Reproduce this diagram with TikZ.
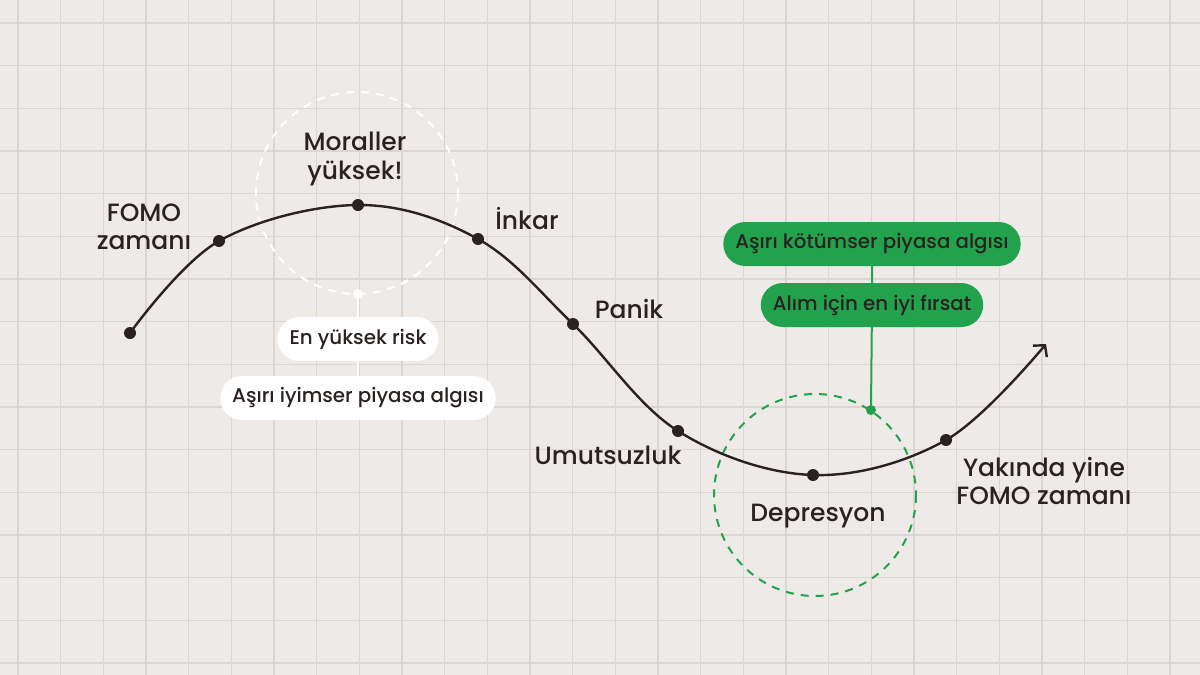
\documentclass[tikz,border=0pt]{standalone}
\usepackage{fontspec}
\setmainfont{Poppins}[UprightFont=* Medium]
\usetikzlibrary{arrows.meta}

\definecolor{paper}{HTML}{EEEAE7}
\definecolor{gridline}{HTML}{DCD6D3}
\definecolor{ink}{HTML}{2A2121}
\definecolor{leaf}{HTML}{23A24D}

\tikzset{
    dot/.style={circle,fill=ink,inner sep=0pt,minimum size=12pt},
    phase/.style={font=\fontsize{25}{28.5}\selectfont,text=ink,align=center},
    pill/.style={rounded corners=22pt,minimum height=44pt,inner xsep=12pt,font=\fontsize{19.8}{22}\selectfont,text=ink},
    ring/.style={line width=2pt,dash pattern=on 8pt off 7pt}
}

\begin{document}
\begin{tikzpicture}[x=1pt,y=-1pt]
    \fill [paper] (0,0) rectangle (1200,675);
    \useasboundingbox (0,0) rectangle (1200,675);
    
    % grid
    \foreach \i in {0,...,27}
        \draw [gridline,line width=1.2pt] ({18+42.667*\i},0) -- ({18+42.667*\i},675);
    \foreach \j in {0,...,15}
        \draw [gridline,line width=1.2pt] (0,{23+42.667*\j}) -- (1200,{23+42.667*\j});
    
    % dashed rings
    \draw [white,ring] (357,193) circle [radius=101];
    \draw [leaf,ring] (815,495) circle [radius=101];
    
    % points of the wave
    \coordinate (p0) at (130,333);
    \coordinate (p1) at (219,241);
    \coordinate (p2) at (358,205);
    \coordinate (p3) at (478,239);
    \coordinate (p4) at (573,324);
    \coordinate (p5) at (678,431);
    \coordinate (p6) at (813,475);
    \coordinate (p7) at (946,440);
    \coordinate (tip) at (1046,344);
    
    \draw [ink,line width=2.4pt,-{Straight Barb[length=8pt,width=18pt,line width=2.4pt]}]
        plot [smooth,tension=0.6] coordinates {(p0) (p1) (p2) (p3) (p4) (p5) (p6) (p7) (tip)};
    
    \foreach \p in {0,...,7}
        \node [dot] (d\p) at (p\p) {};
    
    % phase labels
    \node [phase] (fomo) at (144,227) {FOMO\\zamanı};
    \node [phase] (moral) at (355,159) {Moraller\\yüksek!};
    \node [phase] (inkar) at (527,219) {İnkar};
    \node [phase] (panik) at (629,309) {Panik};
    \node [phase] (umut) at (608,455) {Umutsuzluk};
    \node [phase] (depr) at (818,516) {Depresyon};
    \node [phase] (yine) at (1044,481) {Yakında yine\\FOMO zamanı};
    
    % top: white tags
    \node [circle,fill=white,inner sep=0pt,minimum size=10pt] (wdot) at (358,294) {};
    \node [pill,fill=white] (risk) at (358,339) {En yüksek risk};
    \node [pill,fill=white] (iyimser) at (358,398) {Aşırı iyimser piyasa algısı};
    \draw [white,line width=2pt] (wdot) -- (risk) -- (iyimser);
    
    % bottom: green tags
    \node [circle,fill=leaf,inner sep=0pt,minimum size=10pt] (gdot) at (871,410) {};
    \node [pill,fill=leaf] (kotu) at (872,244) {Aşırı kötümser piyasa algısı};
    \node [pill,fill=leaf] (firsat) at (872,305) {Alım için en iyi fırsat};
    \draw [leaf,line width=2pt] (kotu) -- (firsat) -- (gdot);
    
\end{tikzpicture}
\end{document}
